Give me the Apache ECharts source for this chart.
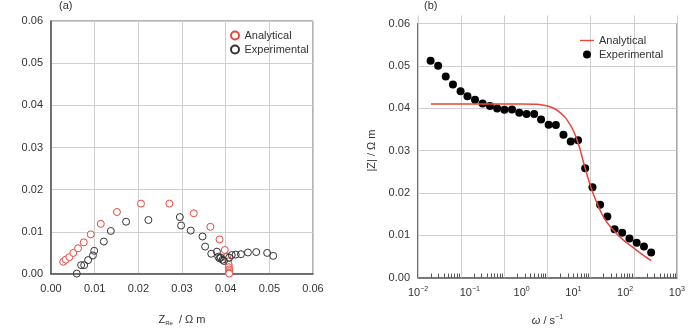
<!DOCTYPE html>
<html lang="en">
<head>
    <meta charset="UTF-8">
    <title>Impedance</title>
    <script src="https://cdn.jsdelivr.net/npm/echarts@6/dist/echarts.min.js"></script>
    <style>
        html, body { margin: 0; padding: 0; background: #fff; }
        #chart { width: 688px; height: 331px; }
    </style>
</head>
<body>
<div id="chart"></div>

<script>
    // (a) Nyquist plot: Z_Re vs -Z_Im
    var anaRe = [0.0028, 0.0034, 0.0042, 0.0051, 0.0062, 0.0075, 0.0091, 0.0114, 0.0151, 0.0206, 0.0271, 0.0327,
        0.0365, 0.0386, 0.0398, 0.0403, 0.0406, 0.0407, 0.0407, 0.0408, 0.0408, 0.0408, 0.0408];
    var anaIm = [0.0029, 0.0034, 0.0040, 0.0050, 0.0061, 0.0075, 0.0094, 0.0119, 0.0147, 0.0167, 0.0167, 0.0144,
        0.0112, 0.0082, 0.0057, 0.0041, 0.0030, 0.0022, 0.0016, 0.0011, 0.0007, 0.0003, 0.0001];
    var expRe = [0.0059, 0.0069, 0.0076, 0.0085, 0.0096, 0.0099, 0.0121, 0.0137, 0.0172, 0.0223, 0.0295, 0.0298,
        0.0320, 0.0347, 0.0353, 0.0367, 0.0380, 0.0383, 0.0386, 0.0389, 0.0393, 0.0396, 0.0408, 0.0414,
        0.0423, 0.0435, 0.0451, 0.0470, 0.0495, 0.0509];
    var expIm = [0.0001, 0.0021, 0.0021, 0.0033, 0.0044, 0.0055, 0.0077, 0.0102, 0.0124, 0.0128, 0.0135, 0.0115,
        0.0103, 0.0089, 0.0065, 0.0048, 0.0053, 0.0041, 0.0037, 0.0039, 0.0034, 0.0031, 0.0039, 0.0045,
        0.0046, 0.0047, 0.0051, 0.0052, 0.0050, 0.0043];

    // (b) |Z| vs omega
    var omegaLine = [0.0178, 0.1, 1, 2.0, 3.16, 4.47, 5.62, 7.08, 8.91, 10.5, 12.0, 13.5, 15.1, 17.0, 20.0,
        24.5, 29.5, 35.5, 44.7, 63.1, 89.1, 132, 200, 316];
    var zLine = [0.0410, 0.0410, 0.0410, 0.0409, 0.0405, 0.0398, 0.0389, 0.0377, 0.0358, 0.0341, 0.0322, 0.0303,
        0.0280, 0.0257, 0.0228, 0.0196, 0.0172, 0.0150, 0.0130, 0.0108, 0.0090, 0.0074, 0.0057, 0.0040];
    var omegaExp = [0.0175, 0.0245, 0.0343, 0.0473, 0.0664, 0.0902, 0.126, 0.177, 0.245, 0.338, 0.467, 0.653,
        0.902, 1.25, 1.75, 2.38, 3.33, 4.6, 6.44, 8.89, 12.3, 16.9, 23.4, 32.8, 45.3, 62.5, 87.7, 121, 167, 231, 318];
    var zExp = [0.0512, 0.0500, 0.0475, 0.0456, 0.0440, 0.0428, 0.0420, 0.0411, 0.0405, 0.0399, 0.0396, 0.0397,
        0.0389, 0.0386, 0.0386, 0.0373, 0.0361, 0.0360, 0.0337, 0.0321, 0.0324, 0.0258, 0.0213, 0.0172,
        0.0144, 0.0114, 0.0106, 0.0092, 0.0082, 0.0073, 0.0059];

    var decadeGrid = [0.01, 0.1, 1, 10, 100, 1000, 10000];

    function zip(a, b) {
        return a.map(function (v, i) { return [v, b[i]]; });
    }

    // minor ticks 2..9 of every decade
    var minorVals = [];
    decadeGrid.slice(0, -1).forEach(function (d) {
        for (var k = 2; k <= 9; k++) minorVals.push(+(d * k).toPrecision(3));
    });

    var FONT = 'Liberation Sans';
    var TXT = '#333';
    var RED = '#e8473b';
    var GRIDC = '#cfcfcf';
    var frame = { show: true, lineStyle: { color: '#555', width: 1.5 } };
    var grid = { show: true, lineStyle: { color: GRIDC, width: 1 } };
    var lbl = { color: TXT, fontSize: 11, fontFamily: FONT };
    var PLOT_H = 262;

    function logLabel(v) {
        var e = Math.round(Math.log10(v));
        return '{b|10}{s|' + (e < 0 ? '\u2212' + (-e) : e) + '}';
    }

    var chart = echarts.init(document.getElementById('chart'));

    var option = {
        animation: false,
        textStyle: { fontFamily: FONT },
        title: [
            { text: '(a)', left: 59, top: 0, padding: 0, textStyle: { fontSize: 11, fontWeight: 'normal', color: TXT } },
            { text: '(b)', left: 424, top: 0, padding: 0, textStyle: { fontSize: 11, fontWeight: 'normal', color: TXT } }
        ],
        grid: [
            { left: 51, top: 21, width: 262, height: PLOT_H, show: true, borderColor: '#666', borderWidth: 1 },
            { left: 418, top: 23.5, width: 261, height: PLOT_H, show: true, borderColor: '#666', borderWidth: 1 }
        ],
        legend: [
            {
                orient: 'vertical', left: 230, top: 30, itemWidth: 9, itemHeight: 8, itemGap: 3, padding: 0,
                textStyle: { fontSize: 11, color: TXT },
                data: ['Analytical (a)', 'Experimental (a)'],
                formatter: function (n) { return n.split(' (')[0]; }
            },
            {
                orient: 'vertical', left: 580, top: 35, itemWidth: 14, itemHeight: 8, itemGap: 3, padding: 0,
                textStyle: { fontSize: 11, color: TXT },
                data: [
                    { name: 'Analytical (b)', icon: 'path://M0 0H14V1.4H0Z' },
                    { name: 'Experimental (b)', icon: 'circle' }
                ],
                formatter: function (n) { return n.split(' (')[0]; }
            }
        ],
        xAxis: [
            {
                gridIndex: 0, type: 'value', min: 0, max: 0.06, interval: 0.01,
                axisLine: frame, axisTick: { show: false }, splitLine: grid,
                axisLabel: Object.assign({ margin: 9, formatter: function (v) { return v.toFixed(2); } }, lbl),
                name: '{i|Z}{sub|Re}{n| / \u03A9 m}', nameLocation: 'middle', nameGap: 40,
                nameTextStyle: {
                    rich: {
                        i: { fontSize: 11, color: TXT },
                        sub: { fontSize: 6, color: TXT, padding: [6, 3, 0, 0] },
                        n: { fontSize: 11, color: TXT }
                    }
                }
            },
            {
                // decade grid lines 10^-2 .. 10^4, drawn as full-height ticks
                gridIndex: 1, type: 'log', logBase: 10, min: 0.01, max: 10000, position: 'bottom',
                axisLine: { show: false }, axisLabel: { show: false }, splitLine: { show: false },
                axisTick: { show: true, inside: true, length: PLOT_H, customValues: decadeGrid, lineStyle: { color: GRIDC, width: 1 } }
            },
            {
                // minor ticks
                gridIndex: 1, type: 'log', logBase: 10, min: 0.01, max: 10000, position: 'bottom',
                axisLine: { show: false }, axisLabel: { show: false }, splitLine: { show: false },
                axisTick: { show: true, inside: true, length: 4, customValues: minorVals, lineStyle: { color: '#555' } }
            },
            {
                // decade labels 10^-2 .. 10^3
                gridIndex: 1, type: 'log', logBase: 10, min: 0.01, max: 1000, position: 'bottom',
                axisLine: frame, axisTick: { show: false }, splitLine: { show: false },
                axisLabel: {
                    margin: 8, formatter: logLabel,
                    rich: {
                        b: { fontSize: 11, color: TXT, fontFamily: FONT },
                        s: { fontSize: 7, color: TXT, fontFamily: FONT, padding: [0, 0, 7, 0] }
                    }
                },
                name: '{i|\u03C9}{n| / s}{s|\u22121}', nameLocation: 'middle', nameGap: 36,
                nameTextStyle: {
                    rich: {
                        i: { fontSize: 11, color: TXT, fontStyle: 'italic' },
                        n: { fontSize: 11, color: TXT },
                        s: { fontSize: 7, color: TXT, padding: [0, 0, 7, 0] }
                    }
                }
            }
        ],
        yAxis: [
            {
                gridIndex: 0, type: 'value', min: 0, max: 0.06, interval: 0.01,
                axisLine: frame, axisTick: { show: false }, splitLine: grid,
                axisLabel: Object.assign({ margin: 8, formatter: function (v) { return v.toFixed(2); } }, lbl)
            },
            {
                gridIndex: 1, type: 'value', min: 0, max: 0.06, interval: 0.01,
                axisLine: frame, axisTick: { show: false }, splitLine: grid,
                axisLabel: Object.assign({ margin: 8, formatter: function (v) { return v.toFixed(2); } }, lbl),
                name: '|Z| / \u03A9 m', nameLocation: 'middle', nameGap: 41, nameRotate: 90,
                nameTextStyle: { fontSize: 11, color: TXT }
            }
        ],
        series: [
            {
                name: 'Analytical (a)', type: 'scatter', xAxisIndex: 0, yAxisIndex: 0,
                symbol: 'circle', symbolSize: 7,
                itemStyle: { color: '#fff', borderColor: RED, borderWidth: 1, opacity: 1 },
                data: zip(anaRe, anaIm)
            },
            {
                name: 'Experimental (a)', type: 'scatter', xAxisIndex: 0, yAxisIndex: 0,
                symbol: 'circle', symbolSize: 7,
                itemStyle: { color: 'rgba(255,255,255,0)', borderColor: '#333', borderWidth: 1, opacity: 1 },
                data: zip(expRe, expIm)
            },
            {
                name: 'Analytical (b)', type: 'line', xAxisIndex: 3, yAxisIndex: 1,
                showSymbol: false, symbol: 'none', smooth: 0.3,
                lineStyle: { color: RED, width: 1.5 }, itemStyle: { color: RED },
                data: zip(omegaLine, zLine)
            },
            {
                name: 'Experimental (b)', type: 'scatter', xAxisIndex: 3, yAxisIndex: 1,
                symbol: 'circle', symbolSize: 8, itemStyle: { color: '#000', opacity: 1 },
                data: zip(omegaExp, zExp)
            }
        ]
    };

    chart.setOption(option);
</script>

</body>
</html>
